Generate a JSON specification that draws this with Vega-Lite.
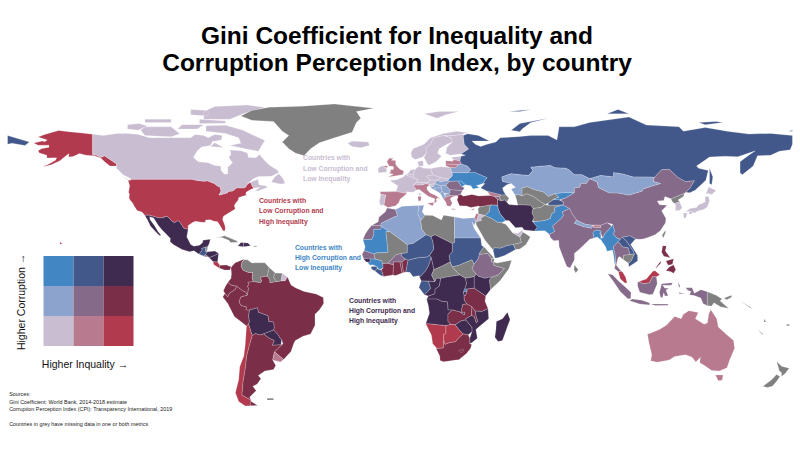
{
"$schema":"https://vega.github.io/schema/vega-lite/v6.json",
"width":800,"height":450,"padding":0,"autosize":{"type":"none"},
"background":"white",
"config":{"view":{"stroke":null},"font":"Liberation Sans"},
"title":{"text":["Gini Coefficient for Inequality and","Corruption Perception Index, by country"],"fontSize":24.5,"fontWeight":"bold","font":"Liberation Sans","color":"#000","anchor":"middle","frame":"group","lineHeight":27,"baseline":"top","dy":80,"dx":-3},
"projection":{"type":"identity","reflectY":true,"scale":2.18,"translate":[400,286]},
"layer":[
{"data":{"values":[
{"type":"Feature","properties":{"name":"United States","cls":"1-3"},"geometry":{"type":"MultiPolygon","coordinates":[[[[-124.7,48.4],[-123,49],[-95.2,49],[-94.6,48.7],[-92,48.3],[-89.6,48],[-88.4,48.3],[-84.9,46.9],[-84.5,46.4],[-83.5,45.8],[-82.5,45.3],[-82.1,43.6],[-82.5,42.6],[-83.1,42],[-82.7,41.7],[-79,42.8],[-79,43.4],[-76.8,43.6],[-75,45],[-71.5,45],[-70.8,45.4],[-70.3,46.3],[-69.2,47.4],[-68.3,47.3],[-67.8,45.7],[-67,44.9],[-69,44],[-70.6,43],[-70.8,42],[-70,41.7],[-71.5,41.4],[-74,40.6],[-74.2,39.5],[-75.5,37.9],[-76,36.9],[-75.6,35.3],[-77.5,34.2],[-79,33.2],[-81,32],[-81.4,30.5],[-80.5,28.3],[-80.1,26.5],[-80.4,25.2],[-81.2,25.3],[-82,26.8],[-82.8,28.2],[-83.8,29.6],[-85.3,29.7],[-87,30.4],[-89.2,30.3],[-89.3,29.2],[-91,29.3],[-93.8,29.7],[-95,29.2],[-97.2,27.7],[-97.2,26],[-99.2,26.5],[-100.5,28.5],[-101.4,29.8],[-102.7,29.7],[-103.3,29],[-104.5,29.6],[-106.5,31.8],[-108.2,31.8],[-108.2,31.3],[-111,31.3],[-114.8,32.5],[-117.1,32.5],[-118.4,34],[-120.6,34.6],[-122,36.8],[-122.5,37.8],[-123.8,39.5],[-124.3,40.4],[-124.1,42],[-124.5,43],[-124,46],[-124.7,48.4]]],[[[-141,69.6],[-141,60.3],[-139,60],[-137.5,58.9],[-135.5,59.7],[-133.5,58.4],[-130,56],[-130,55],[-133,55],[-135.5,57],[-137,58.5],[-140,59.7],[-144,60],[-147,60.8],[-150,59.4],[-152,59.2],[-151.8,60.8],[-153.5,59.5],[-156,57.5],[-160,55.6],[-164,54.6],[-161,56],[-158,57.7],[-157.5,58.8],[-162,58.7],[-162,60],[-165.4,61],[-166,62],[-164.5,63],[-161,63.6],[-161,64.6],[-166,64.6],[-168,65.6],[-164,66.5],[-163,66.2],[-161.8,67],[-166,68.3],[-163,69.5],[-156.6,71.3],[-152,70.8],[-146,70.2],[-141,69.6]]],[[[-156,20.2],[-155,19.5],[-155.5,19],[-156,19.5],[-156,20.2]]]]}},
{"type":"Feature","properties":{"name":"Canada","cls":"1-1"},"geometry":{"type":"MultiPolygon","coordinates":[[[[-141,69.6],[-136,69],[-130,70],[-125,70],[-120,69.5],[-115,68],[-110,68],[-102,68],[-96,68],[-94,69.5],[-90,69],[-88,68],[-85,69.5],[-81.5,69],[-82,67],[-86,66.3],[-87,64.5],[-91,63.8],[-93,62],[-94.8,59],[-92.5,57],[-88,56.5],[-85,55.3],[-82.3,55],[-82,52.9],[-80.5,51.3],[-79,51.5],[-79,54.5],[-76.8,56.5],[-78.5,58.8],[-77.5,60.5],[-78,62.4],[-73,62],[-70,61],[-69.5,59],[-66,58.8],[-64.5,60.3],[-62,57.5],[-60,55.5],[-56,53],[-55.7,52],[-59,50.3],[-65,50.2],[-67,49.3],[-70,47],[-65,49],[-65,47.8],[-64.7,46.4],[-61,45.8],[-61,45.2],[-65.5,43.5],[-66,44],[-64,45.3],[-67,45],[-67.8,45.7],[-68.3,47.3],[-69.2,47.4],[-70.3,46.3],[-70.8,45.4],[-71.5,45],[-75,45],[-76.8,43.6],[-79,43.4],[-79,42.8],[-82.7,41.7],[-83.1,42],[-82.5,42.6],[-82.1,43.6],[-82.5,45.3],[-83.5,45.8],[-84.5,46.4],[-84.9,46.9],[-88.4,48.3],[-89.6,48],[-92,48.3],[-94.6,48.7],[-95.2,49],[-123,49],[-127,51],[-130,54],[-130,55],[-130,56],[-133.5,58.4],[-135.5,59.7],[-137.5,58.9],[-139,60],[-141,60.3],[-141,69.6]]],[[[-65,61.8],[-71,63],[-78,64.5],[-73,65.5],[-74,68],[-80,70],[-89,71],[-89,73.5],[-80,73.7],[-72,71.5],[-67,69],[-62,66.8],[-65,61.8]]],[[[-117,69],[-105,68.5],[-101,69.8],[-105,73],[-117,73],[-119,71.5],[-117,69]]],[[[-125,72],[-120,71.5],[-116,73.5],[-120,74.5],[-125,74],[-125,72]]],[[[-90,76.5],[-78,76.5],[-72,79],[-62,82],[-70,83],[-85,82.3],[-90,80],[-90,76.5]]],[[[-92,74.5],[-80,74.7],[-80,75.7],[-92,76.5],[-92,74.5]]],[[[-117,75],[-105,75],[-105,76.5],[-117,76.5],[-117,75]]],[[[-102,72],[-93,72],[-90,74],[-100,74],[-102,72]]],[[[-96,78.5],[-88,78],[-88,80.5],[-96,81],[-96,78.5]]],[[[-87,64],[-81,63.5],[-85,65.7],[-87,64]]],[[[-59,47.7],[-55,46.8],[-52.7,47],[-53.5,49],[-55.5,51.5],[-57.5,50],[-59,47.7]]],[[[-128,50.7],[-123.5,48.4],[-125,48.8],[-128,50.7]]]]}},
{"type":"Feature","properties":{"name":"Greenland","cls":"none"},"geometry":{"type":"Polygon","coordinates":[[[-73,78],[-68,76],[-58,75.5],[-54,71],[-51,69],[-54,66],[-51,63],[-48,61],[-44,59.8],[-41,63],[-37,65.7],[-30,68],[-22,70.5],[-20,75],[-18,77],[-20,80],[-12,81.5],[-30,83.5],[-45,82.5],[-60,82],[-68,80.5],[-73,78]]]}},
{"type":"Feature","properties":{"name":"Mexico","cls":"3-3"},"geometry":{"type":"Polygon","coordinates":[[[-117.1,32.5],[-114.8,32.5],[-111,31.3],[-108.2,31.3],[-108.2,31.8],[-106.5,31.8],[-104.5,29.6],[-103.3,29],[-102.7,29.7],[-101.4,29.8],[-100.5,28.5],[-99.2,26.5],[-97.2,26],[-97.8,22.5],[-96,19],[-94.5,18.2],[-92,18.7],[-90.6,19.8],[-90.4,21],[-87,21.5],[-87.5,19.5],[-88.2,18],[-89.1,17.9],[-91,17.2],[-90.7,16.5],[-92.2,14.6],[-94.5,16.2],[-96.5,15.7],[-100,16.8],[-104,19],[-105.5,20.4],[-105.3,21.8],[-109.4,26],[-111,28],[-113,31.2],[-114.8,31.8],[-114.7,30.5],[-112.5,27.5],[-111,25],[-109.5,23.2],[-110.5,23.3],[-112.2,25],[-114.5,27.5],[-115.8,30.3],[-117.1,32.5]]]}},
{"type":"Feature","properties":{"name":"Guatemala","cls":"3-2"},"geometry":{"type":"Polygon","coordinates":[[[-92.2,14.6],[-90.7,16.5],[-91,17.2],[-89.1,17.9],[-89.2,15.9],[-88.2,15.7],[-89.3,14.4],[-90.1,13.8],[-92.2,14.6]]]}},
{"type":"Feature","properties":{"name":"Belize","cls":"none"},"geometry":{"type":"Polygon","coordinates":[[[-89.1,17.9],[-88.2,18],[-88.5,16.2],[-89.2,15.9],[-89.1,17.9]]]}},
{"type":"Feature","properties":{"name":"Honduras","cls":"3-3"},"geometry":{"type":"Polygon","coordinates":[[[-88.2,15.7],[-85,16],[-83.2,15],[-85,14],[-87.5,13],[-89.3,14.4],[-88.2,15.7]]]}},
{"type":"Feature","properties":{"name":"El Salvador","cls":"2-2"},"geometry":{"type":"Polygon","coordinates":[[[-90.1,13.8],[-89.3,14.4],[-87.8,13.4],[-89.5,13.4],[-90.1,13.8]]]}},
{"type":"Feature","properties":{"name":"Nicaragua","cls":"3-3"},"geometry":{"type":"Polygon","coordinates":[[[-87.5,13],[-85,14],[-83.2,15],[-83.7,11],[-85.7,11.1],[-87.5,13]]]}},
{"type":"Feature","properties":{"name":"Costa Rica","cls":"1-3"},"geometry":{"type":"Polygon","coordinates":[[[-85.7,11.1],[-83.7,11],[-82.6,9.5],[-83,8.3],[-85.5,9.9],[-85.7,11.1]]]}},
{"type":"Feature","properties":{"name":"Panama","cls":"2-3"},"geometry":{"type":"Polygon","coordinates":[[[-82.6,9.5],[-79.5,9.6],[-77.4,8.7],[-78,7.3],[-80.5,7.3],[-83,8.3],[-82.6,9.5]]]}},
{"type":"Feature","properties":{"name":"Cuba","cls":"none"},"geometry":{"type":"Polygon","coordinates":[[[-84.8,21.9],[-80.5,23],[-75,20.7],[-74.3,20.1],[-77.7,19.9],[-78.5,21],[-82,22.4],[-84.8,21.9]]]}},
{"type":"Feature","properties":{"name":"Haiti","cls":"3-3"},"geometry":{"type":"Polygon","coordinates":[[[-74.4,18.4],[-71.8,18],[-71.7,19.8],[-73,19.9],[-74.4,18.4]]]}},
{"type":"Feature","properties":{"name":"Dominican Republic","cls":"3-3"},"geometry":{"type":"Polygon","coordinates":[[[-71.7,19.8],[-71.8,18],[-68.5,18.5],[-69.8,19.7],[-71.7,19.8]]]}},
{"type":"Feature","properties":{"name":"Puerto Rico","cls":"none"},"geometry":{"type":"Polygon","coordinates":[[[-67.2,18.4],[-65.7,18.4],[-65.7,18],[-67.2,18],[-67.2,18.4]]]}},
{"type":"Feature","properties":{"name":"Colombia","cls":"2-3"},"geometry":{"type":"Polygon","coordinates":[[[-77.4,8.7],[-75.6,10.7],[-72.2,12],[-71.3,12.3],[-72.5,11],[-72.9,9],[-72,7.3],[-69.5,6.2],[-67.5,6.2],[-67.8,3.8],[-67.3,2],[-69.8,1.7],[-69.2,0.6],[-70,0],[-69.5,-1],[-70,-4.2],[-70.8,-2.8],[-72,-2.3],[-75,-0.1],[-77.5,0.4],[-79,1.6],[-77.5,3.5],[-77.3,6],[-77.5,7.6],[-77.4,8.7]]]}},
{"type":"Feature","properties":{"name":"Venezuela","cls":"none"},"geometry":{"type":"Polygon","coordinates":[[[-71.3,12],[-72.5,11],[-72.9,9],[-72,7.3],[-69.5,6.2],[-67.5,6.2],[-67.8,3.8],[-67.3,2],[-64,1.5],[-63.4,2.2],[-64,4],[-61,4.5],[-60.7,5.2],[-60,8.5],[-62,10.7],[-68,10.6],[-70,12],[-71.3,12]]]}},
{"type":"Feature","properties":{"name":"Guyana","cls":"none"},"geometry":{"type":"Polygon","coordinates":[[[-60,8.5],[-60.7,5.2],[-61,4.5],[-59.8,3],[-59.7,1.5],[-57.5,1.8],[-56.5,2],[-58,4],[-57.2,6],[-60,8.5]]]}},
{"type":"Feature","properties":{"name":"Suriname","cls":"none"},"geometry":{"type":"Polygon","coordinates":[[[-57.2,6],[-58,4],[-56.5,2],[-54.5,2.3],[-54,5.8],[-57.2,6]]]}},
{"type":"Feature","properties":{"name":"French Guiana","cls":"1-1"},"geometry":{"type":"Polygon","coordinates":[[[-54,5.8],[-54.5,2.3],[-52.7,2.3],[-51.6,4.1],[-54,5.8]]]}},
{"type":"Feature","properties":{"name":"Ecuador","cls":"2-3"},"geometry":{"type":"Polygon","coordinates":[[[-79,1.6],[-77.5,0.4],[-75,-0.1],[-75.5,-1.5],[-78.3,-3.4],[-79,-5],[-80.3,-3.4],[-81,-2.2],[-80,0],[-79,1.6]]]}},
{"type":"Feature","properties":{"name":"Peru","cls":"2-3"},"geometry":{"type":"Polygon","coordinates":[[[-80.3,-3.4],[-79,-5],[-78.3,-3.4],[-75.5,-1.5],[-75,-0.1],[-72,-2.3],[-70.8,-2.8],[-70,-4.2],[-73,-5],[-73.8,-7.3],[-72.9,-9],[-70.5,-9.5],[-70.6,-11],[-69,-11],[-69.5,-14],[-69,-16.3],[-69.5,-17.5],[-70.4,-18.3],[-76,-14],[-79,-8],[-81.3,-5],[-80.3,-3.4]]]}},
{"type":"Feature","properties":{"name":"Brazil","cls":"2-3"},"geometry":{"type":"Polygon","coordinates":[[[-51.6,4.1],[-52.7,2.3],[-54.5,2.3],[-56.5,2],[-57.5,1.8],[-59.7,1.5],[-59.8,3],[-61,4.5],[-64,4],[-63.4,2.2],[-64,1.5],[-67.3,2],[-69.8,1.7],[-69.2,0.6],[-70,0],[-69.5,-1],[-70,-4.2],[-73,-5],[-73.8,-7.3],[-72.9,-9],[-70.5,-9.5],[-70.6,-11],[-69,-11],[-65.4,-10],[-65,-12],[-60.5,-13.7],[-60.2,-16.3],[-58,-16.5],[-57.7,-19],[-58,-20.2],[-56,-22.3],[-55,-24],[-54.3,-24.5],[-53.7,-26.5],[-57.6,-30.2],[-53.4,-33.7],[-50,-30],[-48.6,-26],[-48,-25],[-44.5,-23],[-41,-22],[-39,-18],[-39,-13],[-37,-11],[-35,-8],[-35.2,-5.3],[-38.5,-3.7],[-44,-2.5],[-48,-0.8],[-50,0.5],[-51.6,4.1]]]}},
{"type":"Feature","properties":{"name":"Bolivia","cls":"3-3"},"geometry":{"type":"Polygon","coordinates":[[[-69,-11],[-65.4,-10],[-65,-12],[-60.5,-13.7],[-60.2,-16.3],[-58,-16.5],[-57.7,-19],[-58,-20.2],[-62.6,-22],[-64.3,-22.5],[-66.3,-21.8],[-67.8,-22.8],[-68.8,-19.5],[-69.5,-17.5],[-69,-16.3],[-69.5,-14],[-69,-11]]]}},
{"type":"Feature","properties":{"name":"Paraguay","cls":"3-3"},"geometry":{"type":"Polygon","coordinates":[[[-62.6,-22],[-58,-20.2],[-56,-22.3],[-55,-24],[-54.3,-24.5],[-54.6,-27],[-58.6,-27.2],[-57.7,-25],[-60,-24],[-62.6,-22]]]}},
{"type":"Feature","properties":{"name":"Chile","cls":"1-3"},"geometry":{"type":"Polygon","coordinates":[[[-70.4,-18.3],[-69.5,-17.5],[-68.8,-19.5],[-67.8,-22.8],[-69,-27],[-70.3,-32],[-71,-38],[-72,-44],[-72.5,-50],[-69,-52],[-68.3,-52.3],[-68.6,-54.9],[-71,-55],[-74,-53],[-75.5,-49],[-74,-43],[-73.5,-37],[-71.6,-32],[-71,-27],[-70.4,-18.3]]]}},
{"type":"Feature","properties":{"name":"Argentina","cls":"2-3"},"geometry":{"type":"MultiPolygon","coordinates":[[[[-67.8,-22.8],[-66.3,-21.8],[-64.3,-22.5],[-62.6,-22],[-60,-24],[-57.7,-25],[-58.6,-27.2],[-54.6,-27],[-53.7,-26.5],[-57.6,-30.2],[-58.4,-33.9],[-57,-36.5],[-58,-38.3],[-62,-39],[-65,-41],[-63.8,-42.5],[-65.5,-45],[-67.5,-46],[-66,-48],[-69,-51],[-68.3,-52.3],[-69,-52],[-72.5,-50],[-72,-44],[-71,-38],[-70.3,-32],[-69,-27],[-67.8,-22.8]]],[[[-68.6,-52.7],[-65.3,-54.8],[-68.6,-54.9],[-68.6,-52.7]]]]}},
{"type":"Feature","properties":{"name":"Uruguay","cls":"1-2"},"geometry":{"type":"Polygon","coordinates":[[[-57.6,-30.2],[-53.4,-33.7],[-54.9,-34.9],[-58.4,-33.9],[-57.6,-30.2]]]}},
{"type":"Feature","properties":{"name":"Falkland Islands","cls":"none"},"geometry":{"type":"Polygon","coordinates":[[[-61,-51.5],[-58,-51.5],[-58,-52.3],[-61,-52.3],[-61,-51.5]]]}},
{"type":"Feature","properties":{"name":"Morocco","cls":"2-2"},"geometry":{"type":"Polygon","coordinates":[[[-5.9,35.8],[-2,35.1],[-1.2,32.2],[-3,31.5],[-8.7,28.7],[-8.7,27.7],[-13,27.7],[-10,29.5],[-9.7,31.5],[-6.8,34],[-5.9,35.8]]]}},
{"type":"Feature","properties":{"name":"Western Sahara","cls":"2-2"},"geometry":{"type":"Polygon","coordinates":[[[-13,27.7],[-8.7,27.7],[-8.7,26],[-12,26],[-12,23.4],[-13,21.3],[-17,21.3],[-16,23.7],[-14.5,26],[-13,27.7]]]}},
{"type":"Feature","properties":{"name":"Algeria","cls":"2-1"},"geometry":{"type":"Polygon","coordinates":[[[-2,35.1],[1,36.6],[8.6,36.9],[8.2,33],[9.5,30.2],[10,26],[12,23.5],[6,19.5],[3.3,19],[-4.8,25],[-8.7,27.3],[-8.7,28.7],[-3,31.5],[-1.2,32.2],[-2,35.1]]]}},
{"type":"Feature","properties":{"name":"Tunisia","cls":"2-1"},"geometry":{"type":"Polygon","coordinates":[[[8.6,36.9],[11,37],[10.2,34],[11.5,32.5],[10,30.5],[9.5,30.2],[8.2,33],[8.6,36.9]]]}},
{"type":"Feature","properties":{"name":"Libya","cls":"none"},"geometry":{"type":"Polygon","coordinates":[[[11.5,32.5],[15,32.3],[19,30.3],[20,32.5],[25,31.7],[25,20],[24,19.5],[16,23.5],[14.2,22.6],[12,23.5],[10,26],[9.5,30.2],[10,30.5],[11.5,32.5]]]}},
{"type":"Feature","properties":{"name":"Egypt","cls":"2-1"},"geometry":{"type":"Polygon","coordinates":[[[25,31.7],[29,31],[32.3,31.2],[34.2,31.3],[34.9,29.5],[34,27.8],[33,29.5],[34,26.5],[37,22],[25,22],[25,31.7]]]}},
{"type":"Feature","properties":{"name":"Sudan","cls":"3-2"},"geometry":{"type":"Polygon","coordinates":[[[25,22],[37,22],[37.5,18.5],[38.5,18],[36.5,15],[36,12.7],[34,10],[33,12],[32.5,11.8],[27,9.5],[24,8.7],[23,11],[22.5,14],[24,15.7],[24,19.5],[25,20],[25,22]]]}},
{"type":"Feature","properties":{"name":"Chad","cls":"3-3"},"geometry":{"type":"Polygon","coordinates":[[[16,23.5],[24,19.5],[24,15.7],[22.5,14],[23,11],[19,9],[15.5,7.5],[15,10],[14.3,13],[13.5,14],[15.5,17],[15,20.5],[14.2,22.6],[16,23.5]]]}},
{"type":"Feature","properties":{"name":"Niger","cls":"3-2"},"geometry":{"type":"Polygon","coordinates":[[[12,23.5],[14.2,22.6],[15,20.5],[15.5,17],[13.5,14],[12,13.2],[8,12.9],[3.7,11.8],[2.5,12.3],[1,13.3],[0.3,14.9],[3.3,15.3],[3.3,19],[6,19.5],[12,23.5]]]}},
{"type":"Feature","properties":{"name":"Mali","cls":"none"},"geometry":{"type":"Polygon","coordinates":[[[-4.8,25],[3.3,19],[3.3,15.3],[0.3,14.9],[-2,14.2],[-4,12],[-5.5,10.4],[-8,10.2],[-8.5,11.6],[-11.4,12.3],[-12,14.7],[-10.8,15.2],[-5.5,15.5],[-6.5,25],[-4.8,25]]]}},
{"type":"Feature","properties":{"name":"Mauritania","cls":"3-1"},"geometry":{"type":"Polygon","coordinates":[[[-8.7,27.3],[-4.8,25],[-6.5,25],[-5.5,15.5],[-10.8,15.2],[-12,14.7],[-16.4,16.2],[-16,18],[-17,21.3],[-13,21.3],[-12,23.4],[-12,26],[-8.7,26],[-8.7,27.3]]]}},
{"type":"Feature","properties":{"name":"Senegal","cls":"2-2"},"geometry":{"type":"Polygon","coordinates":[[[-16.4,16.2],[-12,14.7],[-11.4,12.3],[-16.7,12.4],[-17.4,14.7],[-16.4,16.2]]]}},
{"type":"Feature","properties":{"name":"Gambia","cls":"3-3"},"geometry":{"type":"Polygon","coordinates":[[[-16.7,13.6],[-14,13.6],[-14,13.2],[-16.7,13.2],[-16.7,13.6]]]}},
{"type":"Feature","properties":{"name":"Guinea-Bissau","cls":"3-3"},"geometry":{"type":"Polygon","coordinates":[[[-16.7,12.4],[-13.7,12.5],[-13.7,11],[-15.5,11],[-16.7,12.4]]]}},
{"type":"Feature","properties":{"name":"Guinea","cls":"3-1"},"geometry":{"type":"Polygon","coordinates":[[[-13.7,12.5],[-11.4,12.3],[-8.5,11.6],[-8,10.2],[-7.7,8.4],[-9.5,7.5],[-10.7,9],[-12.5,9.8],[-13.7,9.5],[-15,10.9],[-13.7,11],[-13.7,12.5]]]}},
{"type":"Feature","properties":{"name":"Sierra Leone","cls":"3-2"},"geometry":{"type":"Polygon","coordinates":[[[-13.3,9],[-10.7,9],[-10.5,8],[-11.5,6.9],[-13,7.7],[-13.3,9]]]}},
{"type":"Feature","properties":{"name":"Liberia","cls":"3-2"},"geometry":{"type":"Polygon","coordinates":[[[-11.5,6.9],[-10.5,8],[-9.5,7.5],[-8.5,7.5],[-7.5,4.4],[-9.2,5],[-11.5,6.9]]]}},
{"type":"Feature","properties":{"name":"Cote d'Ivoire","cls":"2-3"},"geometry":{"type":"Polygon","coordinates":[[[-8.5,7.5],[-7.7,8.4],[-8,10.2],[-5.5,10.4],[-2.9,9.7],[-3.2,5.1],[-7.5,4.4],[-8.5,7.5]]]}},
{"type":"Feature","properties":{"name":"Burkina Faso","cls":"2-2"},"geometry":{"type":"Polygon","coordinates":[[[-5.5,10.4],[-4,12],[-2,14.2],[0.3,14.9],[1,13.3],[2.5,12.3],[0.9,11],[-2.9,11],[-2.9,9.7],[-5.5,10.4]]]}},
{"type":"Feature","properties":{"name":"Ghana","cls":"2-3"},"geometry":{"type":"Polygon","coordinates":[[[-2.9,11],[0,11],[1,6],[-2,4.8],[-3.2,5.1],[-2.9,11]]]}},
{"type":"Feature","properties":{"name":"Togo","cls":"2-3"},"geometry":{"type":"Polygon","coordinates":[[[0,11],[0.9,11],[1.6,6.2],[1,6],[0,11]]]}},
{"type":"Feature","properties":{"name":"Benin","cls":"2-3"},"geometry":{"type":"Polygon","coordinates":[[[0.9,11],[2.5,12.3],[3.7,11.8],[2.7,6.4],[1.6,6.2],[0.9,11]]]}},
{"type":"Feature","properties":{"name":"Nigeria","cls":"3-2"},"geometry":{"type":"Polygon","coordinates":[[[3.7,11.8],[8,12.9],[12,13.2],[13.5,14],[14.3,13],[13.2,9.5],[11.8,7],[9.5,4.5],[8.5,4.7],[6,4.3],[4.5,6.3],[2.7,6.4],[3.7,11.8]]]}},
{"type":"Feature","properties":{"name":"Cameroon","cls":"3-3"},"geometry":{"type":"Polygon","coordinates":[[[14.3,13],[15,10],[15.5,7.5],[14.5,5],[16,2],[13,2.2],[9.8,2.3],[8.8,4.4],[9.5,4.5],[11.8,7],[13.2,9.5],[14.3,13]]]}},
{"type":"Feature","properties":{"name":"Central African Republic","cls":"none"},"geometry":{"type":"Polygon","coordinates":[[[15.5,7.5],[19,9],[23,11],[24,8.7],[27.4,5.1],[22,4.2],[18.6,3.5],[16.7,3.5],[16,2],[14.5,5],[15.5,7.5]]]}},
{"type":"Feature","properties":{"name":"South Sudan","cls":"none"},"geometry":{"type":"Polygon","coordinates":[[[24,8.7],[27,9.5],[32.5,11.8],[33,12],[34,10],[33,7.8],[35,5.4],[34,4.3],[30,3.6],[27.4,5.1],[24,8.7]]]}},
{"type":"Feature","properties":{"name":"Eritrea","cls":"none"},"geometry":{"type":"Polygon","coordinates":[[[36.5,15],[38.5,18],[43,13],[42,12.6],[40,15],[37,14.4],[36.5,15]]]}},
{"type":"Feature","properties":{"name":"Ethiopia","cls":"2-2"},"geometry":{"type":"Polygon","coordinates":[[[36,12.7],[36.5,15],[37,14.4],[40,15],[42,12.6],[42,11],[43,11],[43,9.5],[48,8],[45,5],[42,4],[40.7,4],[39,3.5],[35.9,4.5],[35,5.4],[33,7.8],[34,10],[36,12.7]]]}},
{"type":"Feature","properties":{"name":"Djibouti","cls":"none"},"geometry":{"type":"Polygon","coordinates":[[[42,12.6],[43.3,12.5],[43,11],[42,11],[42,12.6]]]}},
{"type":"Feature","properties":{"name":"Somalia","cls":"none"},"geometry":{"type":"Polygon","coordinates":[[[43,11],[44.5,10.5],[51.2,11.8],[50,8],[46,2.5],[41.5,-1.7],[41,2.8],[42,4],[45,5],[48,8],[43,9.5],[43,11]]]}},
{"type":"Feature","properties":{"name":"Kenya","cls":"3-3"},"geometry":{"type":"Polygon","coordinates":[[[35.9,4.5],[39,3.5],[40.7,4],[42,4],[41,2.8],[41.5,-1.7],[39.3,-4.6],[37.7,-3.5],[34,-1],[34,4.3],[35,5.4],[35.9,4.5]]]}},
{"type":"Feature","properties":{"name":"Uganda","cls":"3-3"},"geometry":{"type":"Polygon","coordinates":[[[30,3.6],[34,4.3],[34,-1],[30.8,-1.4],[29.6,-1.4],[30.5,1],[30,3.6]]]}},
{"type":"Feature","properties":{"name":"Rwanda","cls":"3-1"},"geometry":{"type":"Polygon","coordinates":[[[29,-1.4],[30.8,-1.4],[30.8,-2.4],[29,-2.8],[29,-1.4]]]}},
{"type":"Feature","properties":{"name":"Burundi","cls":"3-3"},"geometry":{"type":"Polygon","coordinates":[[[29,-2.8],[30.8,-2.4],[30,-4.4],[29.4,-4.4],[29,-2.8]]]}},
{"type":"Feature","properties":{"name":"DR Congo","cls":"3-3"},"geometry":{"type":"Polygon","coordinates":[[[22,4.2],[27.4,5.1],[30,3.6],[30.5,1],[29.6,-1.4],[29,-2.8],[29.4,-4.4],[29.5,-6.5],[30.7,-8.2],[28.8,-8.5],[28,-12],[29.8,-12],[29.5,-13.3],[27.2,-11.8],[24,-11],[22,-11],[21.8,-7.3],[19,-7],[17,-6],[12.2,-6],[13,-4.6],[16,-3.5],[16,-1.5],[18,0],[18.6,3.5],[22,4.2]]]}},
{"type":"Feature","properties":{"name":"Congo","cls":"3-3"},"geometry":{"type":"Polygon","coordinates":[[[18.6,3.5],[18,0],[16,-1.5],[16,-3.5],[13,-4.6],[11.2,-4],[13,-2.3],[14,-1],[13.3,1.2],[13,2.2],[16,2],[16.7,3.5],[18.6,3.5]]]}},
{"type":"Feature","properties":{"name":"Gabon","cls":"3-2"},"geometry":{"type":"Polygon","coordinates":[[[9.3,1.2],[9.8,2.3],[13,2.2],[13.3,1.2],[14,-1],[13,-2.3],[11.2,-4],[8.7,-0.7],[9.3,1.2]]]}},
{"type":"Feature","properties":{"name":"Angola","cls":"3-3"},"geometry":{"type":"Polygon","coordinates":[[[12.2,-6],[17,-6],[19,-7],[21.8,-7.3],[22,-11],[24,-11],[22,-13],[22,-16.2],[23.4,-17.6],[21,-18.2],[13.8,-17.4],[11.8,-17.3],[13.5,-12.5],[13,-9],[12.2,-6]]]}},
{"type":"Feature","properties":{"name":"Zambia","cls":"2-3"},"geometry":{"type":"Polygon","coordinates":[[[24,-11],[27.2,-11.8],[29.5,-13.3],[29.8,-12],[28,-12],[28.8,-8.5],[30.7,-8.2],[33,-9.5],[32.8,-13.5],[30.2,-15],[30.2,-15.6],[28,-16],[25.3,-17.8],[23.4,-17.6],[22,-16.2],[22,-13],[24,-11]]]}},
{"type":"Feature","properties":{"name":"Malawi","cls":"2-3"},"geometry":{"type":"Polygon","coordinates":[[[33,-9.5],[34.5,-11.5],[35,-14.2],[35.7,-16],[35,-17],[34,-14],[32.8,-13.5],[33,-9.5]]]}},
{"type":"Feature","properties":{"name":"Tanzania","cls":"2-3"},"geometry":{"type":"Polygon","coordinates":[[[30.8,-1.4],[34,-1],[37.7,-3.5],[39.3,-4.6],[39,-7],[40.4,-10.4],[37.5,-11.7],[34.5,-11.5],[33,-9.5],[30.7,-8.2],[29.5,-6.5],[29.4,-4.4],[30,-4.4],[30.8,-2.4],[30.8,-1.4]]]}},
{"type":"Feature","properties":{"name":"Mozambique","cls":"3-3"},"geometry":{"type":"Polygon","coordinates":[[[34.5,-11.5],[37.5,-11.7],[40.4,-10.4],[40.7,-15],[36.5,-18.5],[34.8,-20],[35.5,-24],[32.9,-26],[32,-26.5],[32,-24],[33,-21],[33,-19],[30.2,-15.6],[30.2,-15],[32.8,-13.5],[34,-14],[35,-17],[35.7,-16],[35,-14.2],[34.5,-11.5]]]}},
{"type":"Feature","properties":{"name":"Zimbabwe","cls":"3-3"},"geometry":{"type":"Polygon","coordinates":[[[25.3,-17.8],[28,-16],[30.2,-15.6],[33,-19],[33,-21],[31.3,-22.4],[29,-22],[27,-20],[25.3,-17.8]]]}},
{"type":"Feature","properties":{"name":"Botswana","cls":"1-3"},"geometry":{"type":"Polygon","coordinates":[[[21,-18.2],[23.4,-17.6],[25.3,-17.8],[27,-20],[29,-22],[27,-23.7],[25.5,-25.6],[22.7,-26],[20.7,-26.8],[20,-25],[20,-22],[21,-22],[21,-18.2]]]}},
{"type":"Feature","properties":{"name":"Namibia","cls":"1-3"},"geometry":{"type":"Polygon","coordinates":[[[11.8,-17.3],[13.8,-17.4],[21,-18.2],[21,-22],[20,-22],[20,-28.4],[17,-28.7],[15,-26.5],[14.4,-22.5],[11.8,-17.3]]]}},
{"type":"Feature","properties":{"name":"South Africa","cls":"2-3"},"geometry":{"type":"Polygon","coordinates":[[[16.5,-28.6],[17,-28.7],[20,-28.4],[20,-25],[20.7,-26.8],[22.7,-26],[25.5,-25.6],[27,-23.7],[29,-22],[31.3,-22.4],[32,-24],[32,-26.5],[32.9,-26.8],[32.4,-28.6],[30.5,-31],[27,-33.8],[25.5,-34],[20,-34.8],[18.4,-34.2],[18.2,-32],[16.5,-28.6]]]}},
{"type":"Feature","properties":{"name":"Lesotho","cls":"2-3"},"geometry":{"type":"Polygon","coordinates":[[[27,-29.6],[29,-29],[29,-30],[28,-30.6],[27,-29.6]]]}},
{"type":"Feature","properties":{"name":"Madagascar","cls":"3-3"},"geometry":{"type":"Polygon","coordinates":[[[49.3,-12],[50.5,-15.5],[49.5,-18],[47,-25],[45,-25.5],[43.5,-23.5],[44,-20],[44.2,-16.3],[47,-15],[49.3,-12]]]}},
{"type":"Feature","properties":{"name":"United Kingdom","cls":"1-2"},"geometry":{"type":"MultiPolygon","coordinates":[[[[-5.5,50],[-1,50.7],[1.4,51.2],[1.7,52.7],[0,53.5],[-1.5,55],[-2,56],[-2,57.6],[-4,57.7],[-3,58.6],[-5,58.6],[-6,57],[-5,55],[-3,54.8],[-3,53.4],[-4.5,53.3],[-4.2,52.3],[-5.2,51.8],[-3,51.3],[-5.5,50]]],[[[-7.4,55],[-6,55.2],[-5.5,54.5],[-7,54.2],[-7.4,55]]]]}},
{"type":"Feature","properties":{"name":"Ireland","cls":"1-1"},"geometry":{"type":"Polygon","coordinates":[[[-10,52],[-6.3,52.2],[-6,53.8],[-7,54.2],[-7.4,55],[-8.5,55],[-10,54],[-10,52]]]}},
{"type":"Feature","properties":{"name":"Iceland","cls":"1-1"},"geometry":{"type":"Polygon","coordinates":[[[-24,65.5],[-22,64],[-18,63.4],[-14,64.5],[-14.5,66],[-18,66.3],[-22,66.4],[-24,65.5]]]}},
{"type":"Feature","properties":{"name":"Norway","cls":"1-1"},"geometry":{"type":"MultiPolygon","coordinates":[[[[5,61],[5.5,59],[7,58],[10.5,59.2],[12,61],[12,63.5],[14,65],[15.5,68],[20,69],[25,69],[28.9,69.7],[31,70.3],[26,71],[20,70],[14,68],[11,65],[6,63],[5,61]]],[[[11,79],[17,77],[21,78.5],[27,80],[18,80],[11,79]]]]}},
{"type":"Feature","properties":{"name":"Sweden","cls":"1-1"},"geometry":{"type":"Polygon","coordinates":[[[11,59],[13,55.4],[14.5,56],[16.5,57],[19,59.5],[17.2,61],[18,63],[21.5,65],[24,66],[23.5,68],[20,69],[15.5,68],[14,65],[12,63.5],[12,61],[11,59]]]}},
{"type":"Feature","properties":{"name":"Finland","cls":"1-1"},"geometry":{"type":"Polygon","coordinates":[[[21,60.8],[23,60],[28,60.6],[31.5,62.9],[29.5,65],[29,69],[28.9,69.7],[25,69],[20.5,69],[23.5,68],[24,66],[21.5,63.5],[21,60.8]]]}},
{"type":"Feature","properties":{"name":"Denmark","cls":"1-1"},"geometry":{"type":"Polygon","coordinates":[[[8,57],[10.6,57.5],[10.7,55],[8.7,54.9],[8,57]]]}},
{"type":"Feature","properties":{"name":"Germany","cls":"1-1"},"geometry":{"type":"Polygon","coordinates":[[[7,53.5],[8.7,54.9],[11,54],[14.2,53.9],[15,51],[12.2,50.3],[13.8,48.7],[13,47.5],[10,47.5],[7.6,47.6],[8.2,49],[6.2,49.5],[6,51],[7,53.5]]]}},
{"type":"Feature","properties":{"name":"Netherlands","cls":"1-1"},"geometry":{"type":"Polygon","coordinates":[[[3.5,51.4],[6,51],[7,53.5],[5,53.3],[3.5,51.4]]]}},
{"type":"Feature","properties":{"name":"Belgium","cls":"1-1"},"geometry":{"type":"Polygon","coordinates":[[[2.5,51],[3.5,51.4],[6,51],[6.2,49.5],[2.5,51]]]}},
{"type":"Feature","properties":{"name":"France","cls":"1-1"},"geometry":{"type":"MultiPolygon","coordinates":[[[[-4.7,48.4],[-1.5,48.7],[1.5,50],[2.5,51],[6.2,49.5],[8.2,49],[7.6,47.6],[6,46.3],[7.6,44],[6,43],[3,43.2],[3.2,42.4],[-1.8,43.3],[-1,46],[-4.7,48.4]]],[[[8.6,42.7],[9.5,42.7],[9.3,41.4],[8.7,41.6],[8.6,42.7]]]]}},
{"type":"Feature","properties":{"name":"Spain","cls":"1-2"},"geometry":{"type":"Polygon","coordinates":[[[-9.2,43.2],[-1.8,43.3],[3.2,42.4],[0,39.8],[-0.5,38.3],[-2,36.8],[-5.5,36],[-7.4,37.2],[-7,39.5],[-6.5,41.7],[-8.8,42],[-9.2,43.2]]]}},
{"type":"Feature","properties":{"name":"Portugal","cls":"1-1"},"geometry":{"type":"Polygon","coordinates":[[[-8.8,42],[-6.5,41.7],[-7,39.5],[-7.4,37.2],[-9,37],[-9.5,38.8],[-8.8,42]]]}},
{"type":"Feature","properties":{"name":"Italy","cls":"1-2"},"geometry":{"type":"MultiPolygon","coordinates":[[[[7.6,44],[6,46.3],[8,46.3],[10.4,46.5],[12,47],[13.7,46.5],[12.3,45.3],[12.5,44],[14,42.5],[16,41.8],[18.5,40],[17,40.4],[16.5,39.5],[17,38.9],[15.7,38],[16,40],[13,41.2],[10.5,43],[8.7,44.4],[7.6,44]]],[[[12.5,38],[15.6,38.3],[15,36.7],[12.5,38]]],[[[8.2,41],[9.8,41],[9.5,39.1],[8.4,39],[8.2,41]]]]}},
{"type":"Feature","properties":{"name":"Switzerland","cls":"1-1"},"geometry":{"type":"Polygon","coordinates":[[[6,46.3],[7.6,47.6],[10,47.5],[10.4,46.5],[8,46.3],[6,46.3]]]}},
{"type":"Feature","properties":{"name":"Austria","cls":"1-1"},"geometry":{"type":"Polygon","coordinates":[[[10,47.5],[13,47.5],[13.8,48.7],[17,48.5],[16,46.9],[13.7,46.5],[12,47],[10.4,46.5],[10,47.5]]]}},
{"type":"Feature","properties":{"name":"Poland","cls":"1-1"},"geometry":{"type":"Polygon","coordinates":[[[14.2,53.9],[18.5,54.7],[23,54.4],[24,52],[24,50.5],[22.5,49],[18.8,49.6],[15,51],[14.2,53.9]]]}},
{"type":"Feature","properties":{"name":"Czechia","cls":"1-1"},"geometry":{"type":"Polygon","coordinates":[[[12.2,50.3],[15,51],[18.8,49.6],[17,48.5],[13.8,48.7],[12.2,50.3]]]}},
{"type":"Feature","properties":{"name":"Slovakia","cls":"1-1"},"geometry":{"type":"Polygon","coordinates":[[[17,48.5],[18.8,49.6],[22.5,49],[22,48.4],[18.5,47.8],[17,48.5]]]}},
{"type":"Feature","properties":{"name":"Hungary","cls":"2-1"},"geometry":{"type":"Polygon","coordinates":[[[16,46.9],[17,48.5],[18.5,47.8],[22,48.4],[22.8,48],[21,46.2],[18.8,45.9],[16,46.9]]]}},
{"type":"Feature","properties":{"name":"Romania","cls":"2-2"},"geometry":{"type":"Polygon","coordinates":[[[22.8,48],[26.6,48.2],[28,46],[29.6,45],[28.6,43.7],[26,43.9],[22.7,44.2],[21,46.2],[22.8,48]]]}},
{"type":"Feature","properties":{"name":"Bulgaria","cls":"2-2"},"geometry":{"type":"Polygon","coordinates":[[[22.7,44.2],[26,43.9],[28.6,43.7],[27.7,42],[26,41.4],[23,41.4],[22.3,42.3],[23,43],[22.7,44.2]]]}},
{"type":"Feature","properties":{"name":"Moldova","cls":"3-1"},"geometry":{"type":"Polygon","coordinates":[[[26.6,48.2],[28,48.2],[30,46.4],[28.2,45.5],[28,46],[26.6,48.2]]]}},
{"type":"Feature","properties":{"name":"Ukraine","cls":"3-1"},"geometry":{"type":"Polygon","coordinates":[[[24,50.5],[24,52],[31,52],[34,52.3],[40,49.7],[38,47],[35,46],[36.5,45.2],[33.5,44.5],[32.5,46],[30,46.4],[28,48.2],[26.6,48.2],[22.8,48],[22,48.4],[22.5,49],[24,50.5]]]}},
{"type":"Feature","properties":{"name":"Belarus","cls":"2-1"},"geometry":{"type":"Polygon","coordinates":[[[24,52],[23,54.4],[25.5,54.3],[26.7,55.7],[28.2,56],[31,55],[32.5,53.2],[31,52],[24,52]]]}},
{"type":"Feature","properties":{"name":"Lithuania","cls":"1-2"},"geometry":{"type":"Polygon","coordinates":[[[21,56],[26.7,55.7],[25.5,54.3],[23,54.4],[21,55.2],[21,56]]]}},
{"type":"Feature","properties":{"name":"Latvia","cls":"1-2"},"geometry":{"type":"Polygon","coordinates":[[[21,57.5],[24.3,57.2],[24.5,58],[27.5,57.5],[28.2,56],[26.7,55.7],[21,56],[21,57.5]]]}},
{"type":"Feature","properties":{"name":"Estonia","cls":"1-1"},"geometry":{"type":"Polygon","coordinates":[[[23.5,59],[28,59.5],[27.5,57.5],[24.5,58],[23.5,59]]]}},
{"type":"Feature","properties":{"name":"Slovenia","cls":"1-1"},"geometry":{"type":"Polygon","coordinates":[[[13.7,46.5],[16,46.9],[15.5,45.6],[13.7,45.5],[13.7,46.5]]]}},
{"type":"Feature","properties":{"name":"Croatia","cls":"2-1"},"geometry":{"type":"Polygon","coordinates":[[[13.7,45.5],[15.5,45.6],[16,46.9],[18.8,45.9],[19,45],[16,45],[16,44],[18.4,42.5],[15,44.5],[13.7,45.5]]]}},
{"type":"Feature","properties":{"name":"Bosnia","cls":"2-1"},"geometry":{"type":"Polygon","coordinates":[[[16,45],[19,45],[19.3,43.5],[18.4,42.5],[16,44],[16,45]]]}},
{"type":"Feature","properties":{"name":"Serbia","cls":"2-1"},"geometry":{"type":"Polygon","coordinates":[[[18.8,45.9],[21,46.2],[22.7,44.2],[23,43],[22.3,42.3],[20,42.5],[19.3,43.5],[19,45],[18.8,45.9]]]}},
{"type":"Feature","properties":{"name":"Albania","cls":"2-1"},"geometry":{"type":"Polygon","coordinates":[[[18.4,42.5],[19.3,43.5],[20,42.5],[20.8,40.9],[20,39.8],[19.3,41],[18.4,42.5]]]}},
{"type":"Feature","properties":{"name":"North Macedonia","cls":"2-1"},"geometry":{"type":"Polygon","coordinates":[[[20.5,42],[22.3,42.3],[23,41.4],[20.9,40.9],[20.5,42]]]}},
{"type":"Feature","properties":{"name":"Greece","cls":"1-2"},"geometry":{"type":"MultiPolygon","coordinates":[[[[20,39.8],[20.9,40.9],[23,41.4],[26,41.4],[24,40.8],[23,40],[24,38],[23,36.5],[21.5,36.8],[21,38.5],[20,39.8]]],[[[23.5,35.5],[26.2,35.2],[24,35],[23.5,35.5]]]]}},
{"type":"Feature","properties":{"name":"Cyprus","cls":"1-2"},"geometry":{"type":"Polygon","coordinates":[[[32.3,35],[34.5,35.6],[33.5,34.7],[32.3,35]]]}},
{"type":"Feature","properties":{"name":"Turkey","cls":"2-3"},"geometry":{"type":"Polygon","coordinates":[[[26,41.4],[28,42],[29,41.2],[33,42],[36,41.3],[41.5,41.5],[43.5,41],[44.8,39.7],[44.8,37],[42,37.2],[36.7,36.3],[36,36.7],[32.5,36],[30.5,36.7],[27.3,36.8],[26.2,39.5],[26.7,41],[26,41.4]]]}},
{"type":"Feature","properties":{"name":"Georgia","cls":"1-2"},"geometry":{"type":"Polygon","coordinates":[[[40,43.5],[46.5,41.8],[45.5,41],[43.5,41],[41.5,41.5],[40,43.5]]]}},
{"type":"Feature","properties":{"name":"Armenia","cls":"2-2"},"geometry":{"type":"Polygon","coordinates":[[[43.5,41],[45.5,41],[46.5,39],[44.8,39.7],[43.5,41]]]}},
{"type":"Feature","properties":{"name":"Azerbaijan","cls":"none"},"geometry":{"type":"Polygon","coordinates":[[[45.5,41],[46.5,41.8],[48.5,41.9],[50,40.3],[49,38.4],[48,39.5],[46.5,39],[45.5,41]]]}},
{"type":"Feature","properties":{"name":"Russia","cls":"3-2"},"geometry":{"type":"MultiPolygon","coordinates":[[[[27.5,57.5],[28.2,56],[31,55],[32.5,53.2],[31,52],[34,52.3],[40,49.7],[38,47],[39,47],[37,45],[40,43.5],[46.5,41.8],[48.5,41.9],[47.5,43.5],[47,45],[49,46.5],[51,47],[47,48],[46.7,50],[48,50.5],[51,51.5],[55,51],[59,50.7],[61,53],[60,54.5],[69,55.3],[71,54.2],[76,54],[77.5,53.3],[80,51],[83.5,51],[87,49.2],[92,50.7],[98,50],[98,52],[102,51.4],[107,50],[114,50],[116.7,49.8],[120,53.3],[123.5,53.5],[127.5,49.8],[131,47.8],[135,48.3],[133,45],[131,43],[133,42.8],[135.5,44],[140.3,48.5],[141.4,53],[137,54],[136,55],[142,59.2],[149,59.5],[155,59.3],[163,62],[160,60],[156,57],[156,52],[157,51],[162,55],[164,59.8],[170,60],[174,61.8],[179,62.5],[180,65],[180,69],[170,70],[160,69.7],[150,71],[140,72.7],[130,71],[128,73],[113,73.8],[105,77.5],[87,75],[80,73],[73,73],[72,67],[68,69],[60,69],[54,68.5],[46,68],[44,66],[40,65],[37,64],[34.5,65],[33,66.5],[41,66.5],[36,69],[31,69.8],[29,69],[29.5,65],[31.5,62.9],[28,60.6],[30,60],[28,59.5],[27.5,57.5]]],[[[142,54],[143.5,50],[143,46.5],[142,47],[142,52],[142,54]]],[[[51,71.5],[55,74.5],[68,77],[60,75],[56,72],[55,70.8],[51,71.5]]],[[[-180,69],[-170,66],[-172,64.5],[-178,65.5],[-180,65],[-180,69]]],[[[50,80],[60,81],[55,80],[50,80]]],[[[95,79],[105,79],[100,81],[95,79]]],[[[137,75],[145,75.5],[148,75],[140,74],[137,75]]],[[[178,71],[180,71],[180,71.5],[178,71]]]]}},
{"type":"Feature","properties":{"name":"Kazakhstan","cls":"2-1"},"geometry":{"type":"Polygon","coordinates":[[[47,48],[46.7,50],[48,50.5],[51,51.5],[55,51],[59,50.7],[61,53],[60,54.5],[69,55.3],[71,54.2],[76,54],[77.5,53.3],[80,51],[83.5,51],[87,49.2],[85.5,47],[83,47],[82.5,45.3],[80,45],[80,42.8],[75,42.8],[71,42.3],[68,41],[66,43],[61,44.4],[58.5,45.5],[56,45],[56,41.3],[54,42],[52.8,41.7],[51,44.5],[53,45.3],[51,47],[47,48]]]}},
{"type":"Feature","properties":{"name":"Uzbekistan","cls":"none"},"geometry":{"type":"Polygon","coordinates":[[[56,45],[58.5,45.5],[61,44.4],[66,43],[68,41],[71,42.3],[73,40.8],[71,40],[68,38],[66.5,37.4],[64,39],[61,41.2],[58,42.3],[56,41.3],[56,45]]]}},
{"type":"Feature","properties":{"name":"Turkmenistan","cls":"none"},"geometry":{"type":"Polygon","coordinates":[[[52.8,41.7],[54,42],[56,41.3],[58,42.3],[61,41.2],[64,39],[66.5,37.4],[64.5,36],[61,35.5],[60,37],[54,37.3],[53.5,39.5],[52.8,41.7]]]}},
{"type":"Feature","properties":{"name":"Kyrgyzstan","cls":"3-1"},"geometry":{"type":"Polygon","coordinates":[[[71,42.3],[75,42.8],[80,42.8],[76,40.4],[73,39.5],[70,39.7],[71,40],[73,40.8],[71,42.3]]]}},
{"type":"Feature","properties":{"name":"Tajikistan","cls":"3-2"},"geometry":{"type":"Polygon","coordinates":[[[68,38],[71,40],[70,39.7],[73,39.5],[75,38.5],[74.8,37.2],[71.5,37],[68,37],[68,38]]]}},
{"type":"Feature","properties":{"name":"Afghanistan","cls":"none"},"geometry":{"type":"Polygon","coordinates":[[[61,35.5],[64.5,36],[66.5,37.4],[68,37],[71.5,37],[74.8,37.2],[71,36],[71,34],[69.5,33],[69,31],[66.5,30],[62,29.5],[60.8,30],[61.5,31.5],[60.5,33.5],[61,35.5]]]}},
{"type":"Feature","properties":{"name":"Pakistan","cls":"3-1"},"geometry":{"type":"Polygon","coordinates":[[[74.8,37.2],[77.8,35.5],[74.5,34],[75,32.5],[74,31],[70,27.5],[71,25],[68.5,23.7],[66.5,25.4],[61.6,25.2],[63,27],[60.8,29.5],[62,29.5],[66.5,30],[69,31],[69.5,33],[71,34],[71,36],[74.8,37.2]]]}},
{"type":"Feature","properties":{"name":"Iran","cls":"3-3"},"geometry":{"type":"Polygon","coordinates":[[[44.8,39.7],[46.5,39],[48,39.5],[49,38.4],[50,37.4],[54,37],[54,37.3],[60,37],[61,35.5],[60.5,33.5],[61.5,31.5],[60.8,30],[60.8,29.5],[63,27],[61.6,25.2],[57,25.7],[56,27],[53,26.7],[50,30],[48.5,30],[46,33],[45,35.5],[44.8,37],[44.8,39.7]]]}},
{"type":"Feature","properties":{"name":"Iraq","cls":"3-1"},"geometry":{"type":"Polygon","coordinates":[[[42,37.2],[44.8,37],[45,35.5],[46,33],[48.5,30],[47.5,29.5],[46.5,29],[44.7,29.2],[42,31],[39,32.3],[41,34.3],[41.2,36.5],[42,37.2]]]}},
{"type":"Feature","properties":{"name":"Syria","cls":"none"},"geometry":{"type":"Polygon","coordinates":[[[36.7,36.3],[42,37.2],[41.2,36.5],[41,34.3],[39,32.3],[36,33],[35.8,35.5],[36.7,36.3]]]}},
{"type":"Feature","properties":{"name":"Jordan","cls":"1-1"},"geometry":{"type":"Polygon","coordinates":[[[35,29.5],[36,33],[39,32.3],[37,31],[37.5,30],[35,29.5]]]}},
{"type":"Feature","properties":{"name":"Israel","cls":"1-2"},"geometry":{"type":"Polygon","coordinates":[[[34.2,31.3],[35,33.2],[36,33],[35,29.5],[34.2,31.3]]]}},
{"type":"Feature","properties":{"name":"Saudi Arabia","cls":"none"},"geometry":{"type":"Polygon","coordinates":[[[34.9,29.5],[37.5,30],[37,31],[39,32.3],[42,31],[44.7,29.2],[46.5,29],[48.5,28.3],[50,26.5],[51.5,24.5],[55,22.5],[55.7,20],[52,19],[49,18.5],[46,17.3],[43.3,17.5],[42.7,16.5],[39,21],[37,24.5],[35,28],[34.9,29.5]]]}},
{"type":"Feature","properties":{"name":"Yemen","cls":"3-2"},"geometry":{"type":"Polygon","coordinates":[[[42.7,16.5],[43.3,17.5],[46,17.3],[49,18.5],[52,19],[53,16.7],[48,14],[45,13],[43.5,12.8],[42.7,16.5]]]}},
{"type":"Feature","properties":{"name":"Oman","cls":"none"},"geometry":{"type":"Polygon","coordinates":[[[52,19],[55.7,20],[55,22.5],[56.3,24.8],[58,23.7],[59.8,22.5],[57.8,19],[55,17],[53,16.7],[52,19]]]}},
{"type":"Feature","properties":{"name":"United Arab Emirates","cls":"1-1"},"geometry":{"type":"Polygon","coordinates":[[[51.5,24.5],[54,24.2],[56.3,25.8],[56.3,24.8],[55,22.5],[51.5,24.5]]]}},
{"type":"Feature","properties":{"name":"China","cls":"2-2"},"geometry":{"type":"Polygon","coordinates":[[[73.5,39.5],[75,38.5],[74.8,37.2],[77.8,35.5],[79,33],[81,30.2],[85,28.3],[88.2,27.9],[88.8,28],[92,27.8],[95,29],[97.5,28.3],[98.5,25],[97.7,24],[99.5,22],[101.5,21.3],[102,22.4],[105.5,23],[108,21.6],[110,21.4],[111.5,21.6],[114,22.4],[117,23.5],[119.5,25.5],[121.8,29],[122,31],[120,34.5],[122.5,37],[119,37.3],[118,39],[121,39.2],[121.5,41],[124.3,40],[128,41.5],[130.5,42.5],[131,43],[133,45],[135,48.3],[131,47.8],[127.5,49.8],[123.5,53.5],[120,53.3],[116.7,49.8],[116,48],[119.5,47],[116,46],[111.5,44.5],[111,43.5],[105,41.7],[100,42.7],[96,42.7],[91,45.2],[90.5,47.7],[87,49.2],[85.5,47],[83,47],[82.5,45.3],[80,45],[80,42.8],[76,40.4],[73.5,39.5]]]}},
{"type":"Feature","properties":{"name":"Mongolia","cls":"2-1"},"geometry":{"type":"Polygon","coordinates":[[[87,49.2],[92,50.7],[98,50],[98,52],[102,51.4],[107,50],[114,50],[116.7,49.8],[116,48],[119.5,47],[116,46],[111.5,44.5],[111,43.5],[105,41.7],[100,42.7],[96,42.7],[91,45.2],[90.5,47.7],[87,49.2]]]}},
{"type":"Feature","properties":{"name":"North Korea","cls":"none"},"geometry":{"type":"Polygon","coordinates":[[[124.3,40],[128,41.5],[130.5,42.5],[130,41],[127.5,39.5],[128.3,38.6],[126,37.8],[125,38.5],[124.3,40]]]}},
{"type":"Feature","properties":{"name":"South Korea","cls":"1-1"},"geometry":{"type":"Polygon","coordinates":[[[126,37.8],[128.3,38.6],[129.4,36],[128.5,34.8],[126.3,34.5],[126.5,36.8],[126,37.8]]]}},
{"type":"Feature","properties":{"name":"Japan","cls":"1-1"},"geometry":{"type":"MultiPolygon","coordinates":[[[[131,34],[133,35.6],[136,36],[137,37.3],[140,38.5],[140,41],[141.5,41],[142,39],[140.8,36],[139,35],[136.8,34.5],[135,33.5],[133,34.3],[131,34]]],[[[130,33.5],[131.8,33.5],[131,31],[130,31.5],[130,33.5]]],[[[140.2,42],[141.6,45.4],[145,43.8],[143,42],[141,42.5],[140.2,42]]],[[[132.5,34],[134.5,34.2],[134,33.3],[132.7,32.8],[132.5,34]]]]}},
{"type":"Feature","properties":{"name":"Taiwan","cls":"none"},"geometry":{"type":"Polygon","coordinates":[[[120.2,23.3],[121.5,25.2],[122,25],[120.8,22],[120.2,23.3]]]}},
{"type":"Feature","properties":{"name":"India","cls":"2-2"},"geometry":{"type":"Polygon","coordinates":[[[74.5,34],[77.8,35.5],[79,33],[81,30.2],[80,28.8],[84,27.3],[88,26.5],[88.2,27.9],[88.8,27],[92,26.8],[92,27.8],[95,29],[97.2,27.5],[94,24],[93,22],[92,24.5],[91.5,24],[92.3,25.2],[89.8,25.7],[88.5,24.5],[89,22],[87,21.5],[85,19.5],[82,16.6],[80,15],[80,12],[78,8.2],[76.5,9],[74.5,14],[73,18],[72.8,21],[70.5,20.8],[69,22.3],[68.5,23.7],[71,25],[70,27.5],[74,31],[75,32.5],[74.5,34]]]}},
{"type":"Feature","properties":{"name":"Nepal","cls":"2-1"},"geometry":{"type":"Polygon","coordinates":[[[80,28.8],[81,30.2],[85,28.3],[88.2,27.9],[88,26.5],[84,27.3],[80,28.8]]]}},
{"type":"Feature","properties":{"name":"Bhutan","cls":"1-2"},"geometry":{"type":"Polygon","coordinates":[[[88.8,28],[92,27.8],[92,26.8],[88.8,27],[88.8,28]]]}},
{"type":"Feature","properties":{"name":"Bangladesh","cls":"3-1"},"geometry":{"type":"Polygon","coordinates":[[[88.5,24.5],[89.8,25.7],[92.3,25.2],[91.5,24],[92,24.5],[92.3,21],[90.5,22.5],[89,22],[88.5,24.5]]]}},
{"type":"Feature","properties":{"name":"Sri Lanka","cls":"none"},"geometry":{"type":"Polygon","coordinates":[[[80,9.7],[81.8,7.5],[80.6,6],[79.8,7.5],[80,9.7]]]}},
{"type":"Feature","properties":{"name":"Myanmar","cls":"3-1"},"geometry":{"type":"Polygon","coordinates":[[[97.2,27.5],[97.5,28.3],[98.5,25],[97.7,24],[99.5,22],[101,21.3],[100,20.3],[97.8,18],[98.6,15],[99,11],[98.5,10],[98,14],[97.5,16.5],[95,15.9],[94.3,18],[92.3,21],[92,22],[93,22],[94,24],[97.2,27.5]]]}},
{"type":"Feature","properties":{"name":"Thailand","cls":"2-2"},"geometry":{"type":"Polygon","coordinates":[[[97.8,18],[100,20.3],[101,19.5],[102,18],[104.7,17.5],[105.5,14.5],[102.5,14],[102.5,12],[100.8,13.5],[100,13],[99.2,9.5],[101.5,6.8],[100.2,6.5],[98.4,8],[99,11],[98.6,15],[97.8,18]]]}},
{"type":"Feature","properties":{"name":"Laos","cls":"3-2"},"geometry":{"type":"Polygon","coordinates":[[[100,20.3],[101,21.3],[102,22.4],[104,20.5],[107,16],[107.5,14.7],[105.5,14.5],[104.7,17.5],[102,18],[101,19.5],[100,20.3]]]}},
{"type":"Feature","properties":{"name":"Vietnam","cls":"3-2"},"geometry":{"type":"Polygon","coordinates":[[[102,22.4],[105.5,23],[108,21.6],[105.8,19],[109,14],[109,11.5],[105,8.8],[104.8,10.5],[106,11.5],[107.5,14.7],[107,16],[104,20.5],[102,22.4]]]}},
{"type":"Feature","properties":{"name":"Cambodia","cls":"none"},"geometry":{"type":"Polygon","coordinates":[[[102.5,14],[105.5,14.5],[107.5,14.7],[106,11.5],[104.8,10.5],[102.5,12],[102.5,14]]]}},
{"type":"Feature","properties":{"name":"Malaysia","cls":"1-3"},"geometry":{"type":"MultiPolygon","coordinates":[[[[100.2,6.5],[101.5,6.8],[102.2,6.3],[103.5,4],[104.2,1.4],[103,1.5],[101,3.3],[100.2,6.5]]],[[[109.6,2],[111.5,2.7],[113,3.2],[116,6.8],[117,7],[119.2,5.2],[117.6,4.2],[115.8,4.3],[114.5,1.5],[111.5,1],[109.6,2]]]]}},
{"type":"Feature","properties":{"name":"Indonesia","cls":"2-2"},"geometry":{"type":"MultiPolygon","coordinates":[[[[95.3,5.6],[97.5,5.2],[100,2.5],[104,-1],[106,-3],[105.8,-5.8],[104.5,-5.8],[101,-2.5],[98,2],[95.3,5.6]]],[[[105.3,-6.8],[106.5,-6],[111,-6.5],[114.5,-7.8],[114.5,-8.7],[110,-8.2],[105.3,-6.8]]],[[[109,1.8],[109.6,2],[111.5,1],[114.5,1.5],[115.8,4.3],[117.6,4.2],[118,1],[116,-3.8],[114.5,-4],[110,-2.9],[109,0],[109,1.8]]],[[[120,1],[125,1.5],[124.5,0.4],[120.5,0.3],[121.5,-1],[123.3,-0.9],[122,-2],[123,-4.5],[121.5,-4.6],[121,-3],[120.3,-5.5],[119.5,-5],[119,-3],[119.8,0],[120,1]]],[[[115,-8.2],[119,-8.3],[123,-8.3],[123,-8.8],[117,-9],[115,-8.2]]],[[[123.6,-10.3],[127,-8.4],[125,-9.5],[123.6,-10.3]]],[[[131,-0.8],[134,-0.8],[135,-3.3],[138,-1.7],[141,-2.6],[141,-9.1],[139,-8],[138,-5.5],[135,-4.4],[132.8,-4],[133.5,-2.5],[132,-2],[131,-0.8]]],[[[127.5,2],[128.5,0],[128,-0.8],[127.5,2]]],[[[128,-3],[130.8,-3.5],[128,-3.5],[128,-3]]]]}},
{"type":"Feature","properties":{"name":"Papua New Guinea","cls":"none"},"geometry":{"type":"MultiPolygon","coordinates":[[[[141,-2.6],[145,-4.3],[147.8,-6],[146.8,-6.8],[150.8,-10.3],[147,-9.5],[144,-7.7],[143,-9.2],[141,-9.1],[141,-2.6]]],[[[148.5,-5.6],[152,-4.2],[152.2,-5],[150,-6.3],[148.5,-5.6]]]]}},
{"type":"Feature","properties":{"name":"Pacific islands","cls":"none"},"geometry":{"type":"MultiPolygon","coordinates":[[[[156,-6.8],[160,-9.3],[162,-10.5],[160.5,-10],[156,-6.8]]],[[[167,-15],[168,-16.5],[167,-16.5],[167,-15]]],[[[164,-20],[167,-22.4],[166,-22],[164,-20]]],[[[177.3,-17.5],[178.6,-17.6],[178.6,-18.2],[177.3,-18.2],[177.3,-17.5]]]]}},
{"type":"Feature","properties":{"name":"Philippines","cls":"2-3"},"geometry":{"type":"MultiPolygon","coordinates":[[[[120.5,18.5],[122.2,18.4],[121.7,16],[124,13],[121,13.7],[120,15.5],[120.5,18.5]]],[[[122,7],[123.5,8.7],[125.5,9.7],[126.5,7.5],[125.5,5.8],[124,6.7],[122,7]]],[[[122,11.5],[125.5,12.5],[125,10],[123,9.5],[122,11.5]]],[[[117.2,8.3],[119.5,11.3],[119.7,10.5],[117.5,8.3],[117.2,8.3]]]]}},
{"type":"Feature","properties":{"name":"Australia","cls":"1-2"},"geometry":{"type":"MultiPolygon","coordinates":[[[[113.5,-22],[114.2,-26],[115.5,-31.5],[115,-34.3],[118,-35],[123.5,-33.9],[126,-32.3],[131,-31.5],[134,-32.7],[135.7,-34.9],[137.8,-32.7],[137.5,-35.2],[139.7,-36.5],[143,-38.8],[146.5,-39],[150,-37.5],[151.3,-33.7],[153.5,-28.5],[153,-25],[149.5,-22],[146,-18.8],[145.3,-15],[142.5,-10.8],[141.6,-13],[141,-17],[139.5,-17.5],[135.5,-15],[136.8,-12.2],[132.5,-11.3],[130,-13],[129,-15],[126,-14],[122.2,-18],[119,-20],[114.5,-21.8],[113.5,-22]]],[[[144.7,-40.8],[148.2,-40.8],[147.8,-43.2],[146,-43.5],[144.7,-40.8]]]]}},
{"type":"Feature","properties":{"name":"New Zealand","cls":"none"},"geometry":{"type":"MultiPolygon","coordinates":[[[[172.8,-34.5],[175,-36.8],[178.5,-37.7],[176.8,-40],[175,-41.5],[175,-39.7],[174,-39],[172.8,-34.5]]],[[[172.7,-40.6],[174.3,-41.5],[172.8,-43.7],[170.8,-46],[168.4,-46.6],[166.5,-46],[170.5,-43],[172.7,-40.6]]]]}}
]},
"mark":{"type":"geoshape","stroke":"#ffffff","strokeWidth":0.25,"strokeOpacity":0.8},
"encoding":{"color":{"field":"properties.cls","type":"nominal","legend":null,"scale":{"domain":["1-1","1-2","1-3","2-1","2-2","2-3","3-1","3-2","3-3","none"],"range":["#c9bdd2","#b87a8e","#b23a4e","#8ba3cd","#856a8a","#7a2e48","#4286c4","#43588a","#3f2a50","#808080"]}}}},
{"data":{"values":[
{"inequality":1,"corruption":1,"cls":"1-1"},{"inequality":2,"corruption":1,"cls":"1-2"},{"inequality":3,"corruption":1,"cls":"1-3"},
{"inequality":1,"corruption":2,"cls":"2-1"},{"inequality":2,"corruption":2,"cls":"2-2"},{"inequality":3,"corruption":2,"cls":"2-3"},
{"inequality":1,"corruption":3,"cls":"3-1"},{"inequality":2,"corruption":3,"cls":"3-2"},{"inequality":3,"corruption":3,"cls":"3-3"}
]},
"mark":{"type":"rect"},
"encoding":{
"x":{"field":"inequality","type":"ordinal","axis":null,"scale":{"range":[43.5,133.5],"paddingInner":0,"paddingOuter":0}},
"y":{"field":"corruption","type":"ordinal","axis":null,"sort":"descending","scale":{"range":[256,346],"paddingInner":0,"paddingOuter":0}},
"color":{"field":"cls","type":"nominal","legend":null}}},
{"data":{"values":[
{"text":"Countries with|Low Corruption and|Low Inequality","lon":-44.5,"lat":58.5,"cls":"1-1"},
{"text":"Countries with|Low Corruption and|High Inequality","lon":-64.7,"lat":39,"cls":"1-3"},
{"text":"Countries with|High Corruption and|Low Inequality","lon":-48.2,"lat":17.5,"cls":"3-1"},
{"text":"Countries with|High Corruption and|High Inequality","lon":-23.4,"lat":-6.8,"cls":"3-3"}
]},
"mark":{"type":"text","align":"left","baseline":"middle","fontSize":6.8,"fontWeight":"bold","lineBreak":"|","lineHeight":10.3},
"encoding":{"longitude":{"field":"lon","type":"quantitative"},"latitude":{"field":"lat","type":"quantitative"},"text":{"field":"text"},"color":{"field":"cls","type":"nominal","legend":null}}},
{"data":{"values":[
{"text":"Higher Inquality →","lon":-144.5,"lat":-36.4}
]},
"mark":{"type":"text","align":"center","baseline":"middle","fontSize":10.5,"color":"#111"},
"encoding":{"longitude":{"field":"lon","type":"quantitative"},"latitude":{"field":"lat","type":"quantitative"},"text":{"field":"text"}}},
{"data":{"values":[
{"text":"Higher Corruption →","lon":-173.4,"lat":-7.3}
]},
"mark":{"type":"text","align":"center","baseline":"middle","fontSize":10.5,"angle":270,"color":"#111"},
"encoding":{"longitude":{"field":"lon","type":"quantitative"},"latitude":{"field":"lat","type":"quantitative"},"text":{"field":"text"}}},
{"data":{"values":[
{"text":"Sources:","lon":-179.3,"lat":-49.5},
{"text":"Gini Coefficient: World Bank, 2014-2018 estimate","lon":-179.3,"lat":-53.2},
{"text":"Corruption Perception Index (CPI): Transparency International, 2019","lon":-179.3,"lat":-56.5},
{"text":"Countries in grey have missing data in one or both metrics","lon":-179.3,"lat":-63.3}
]},
"mark":{"type":"text","align":"left","baseline":"middle","fontSize":5.4,"color":"#222"},
"encoding":{"longitude":{"field":"lon","type":"quantitative"},"latitude":{"field":"lat","type":"quantitative"},"text":{"field":"text"}}}
]
}
